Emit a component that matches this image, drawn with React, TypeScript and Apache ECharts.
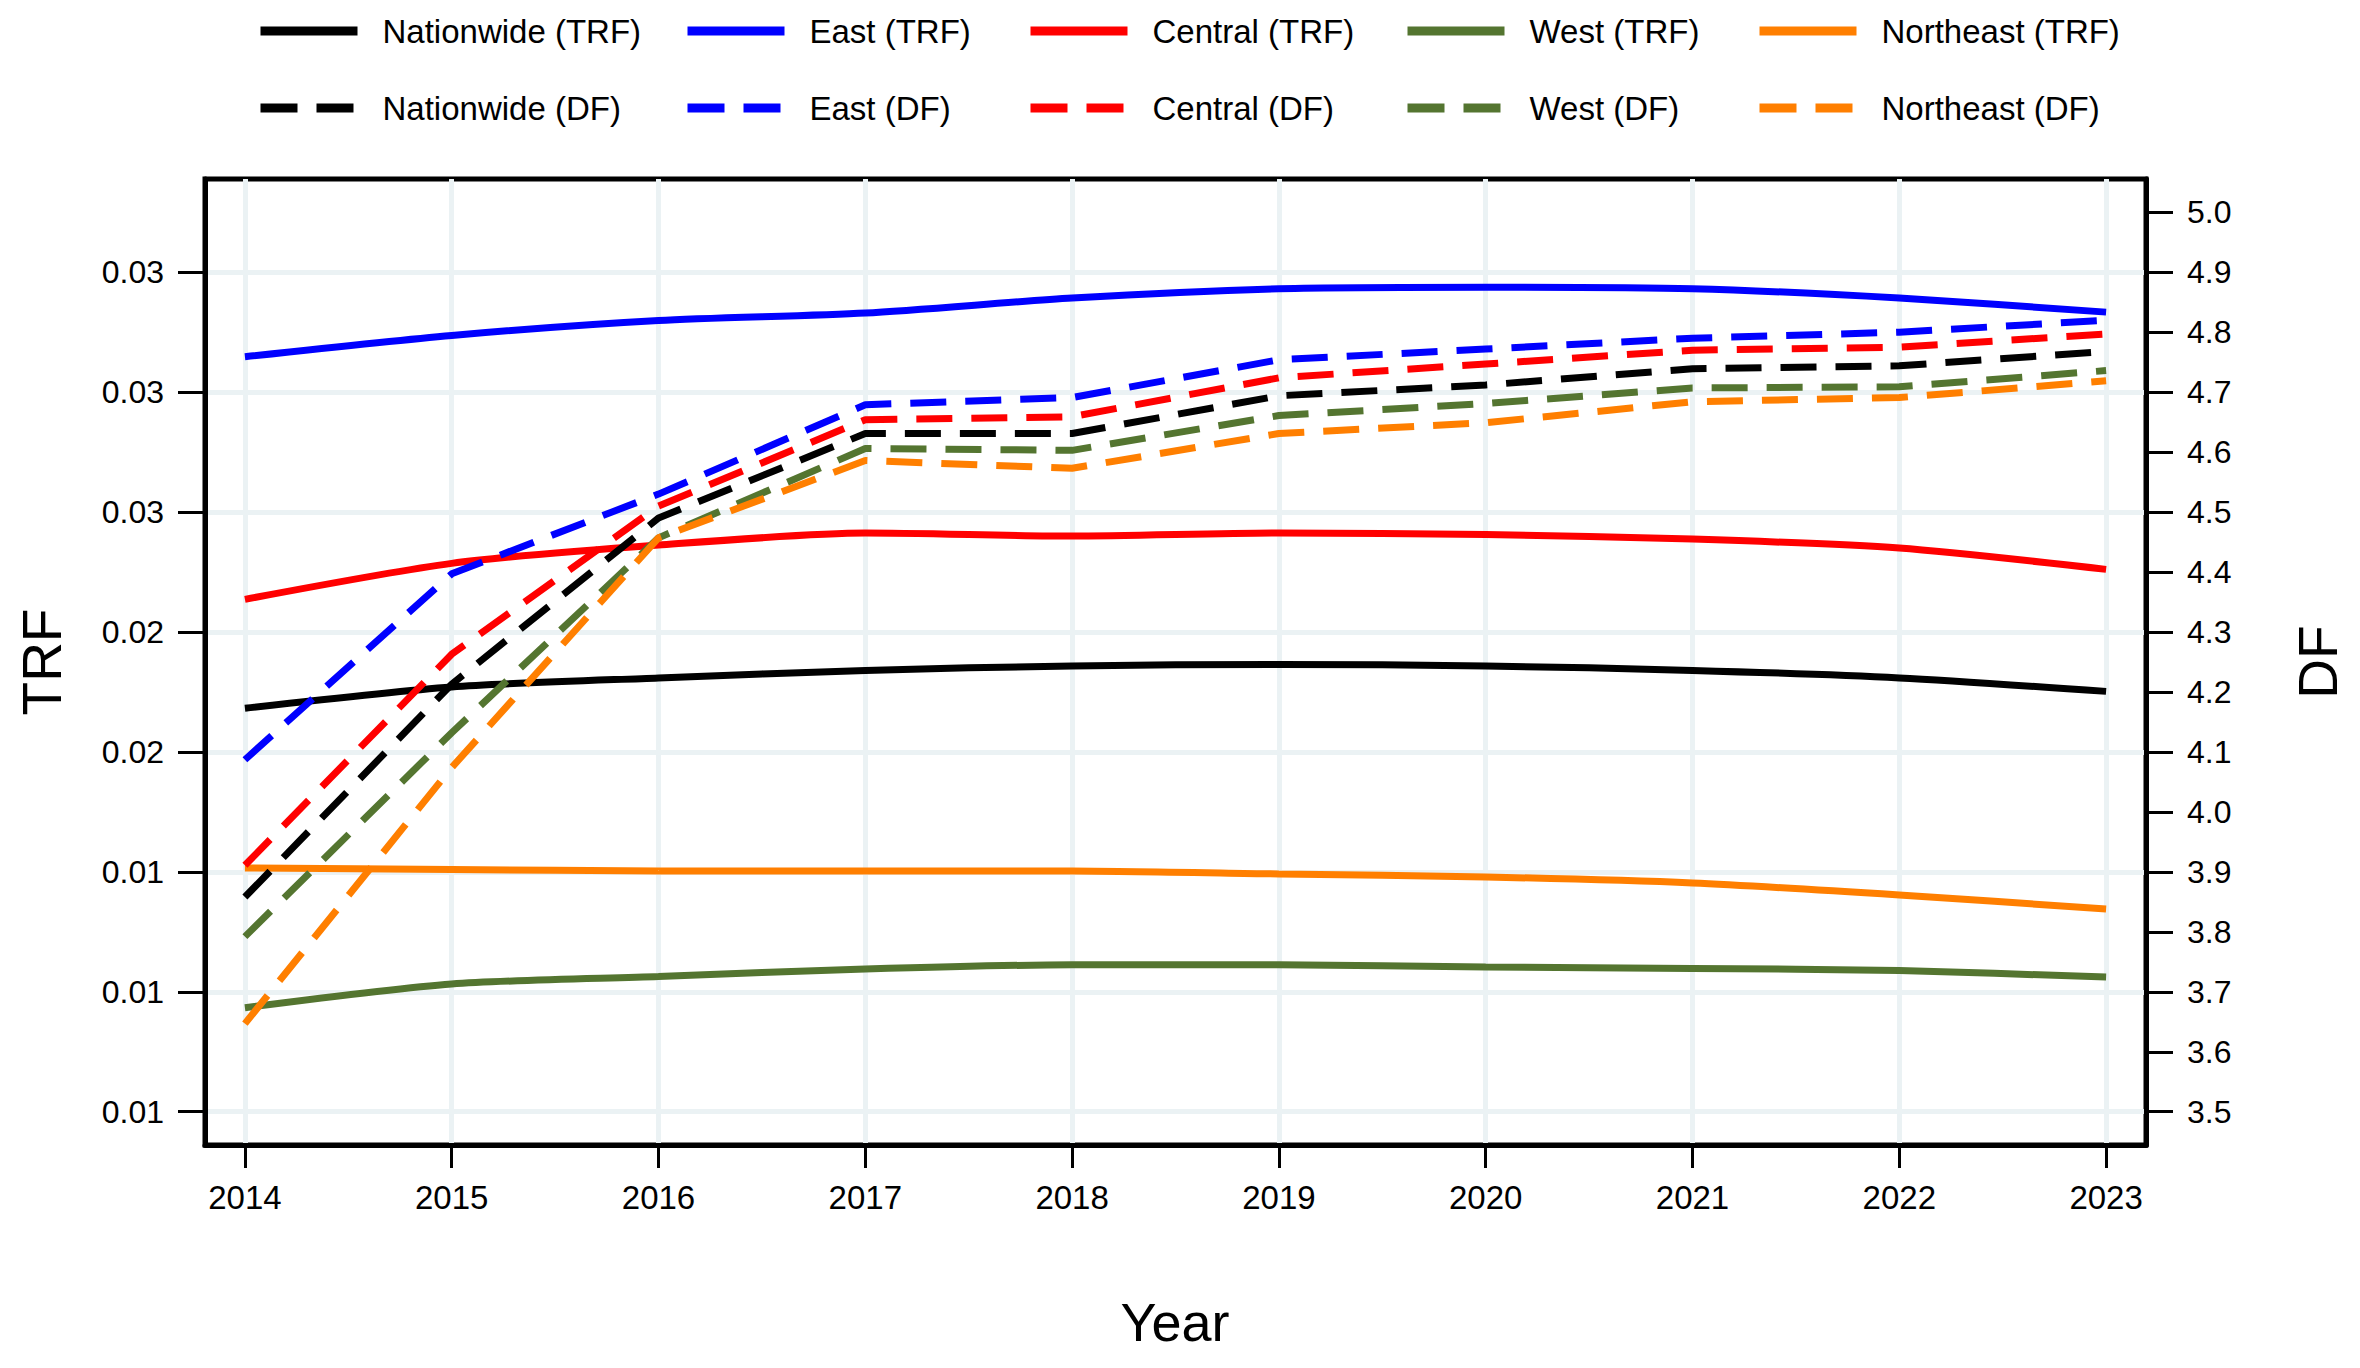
import React, { useEffect, useRef } from "react";
import * as echarts from "echarts";

const years = [2014, 2015, 2016, 2017, 2018, 2019, 2020, 2021, 2022, 2023];
const trfTicks = [0.006, 0.01, 0.014, 0.018, 0.022, 0.026, 0.03, 0.034];
const dfTicks = [3.5, 3.6, 3.7, 3.8, 3.9, 4.0, 4.1, 4.2, 4.3, 4.4, 4.5, 4.6, 4.7, 4.8, 4.9, 5.0];

const nationwideTRF = [0.01946, 0.02017, 0.02047, 0.02072, 0.02087, 0.02092, 0.02087, 0.02072, 0.02047, 0.02002];
const eastTRF = [0.03118, 0.03189, 0.03239, 0.03264, 0.03314, 0.03345, 0.0335, 0.03345, 0.03314, 0.03267];
const centralTRF = [0.02309, 0.02429, 0.0249, 0.0253, 0.0252, 0.0253, 0.02525, 0.0251, 0.0248, 0.02409];
const westTRF = [0.00947, 0.01026, 0.01051, 0.01076, 0.0109, 0.0109, 0.01083, 0.01078, 0.01071, 0.01049];
const northeastTRF = [0.01413, 0.01408, 0.01403, 0.01403, 0.01403, 0.01393, 0.01383, 0.01363, 0.01323, 0.01276];

const nationwideDF = [3.858, 4.213, 4.49, 4.631, 4.631, 4.694, 4.712, 4.739, 4.744, 4.768];
const eastDF = [4.087, 4.397, 4.53, 4.679, 4.691, 4.754, 4.772, 4.79, 4.8, 4.82];
const centralDF = [3.911, 4.263, 4.51, 4.654, 4.659, 4.724, 4.747, 4.77, 4.775, 4.797];
const westDF = [3.792, 4.132, 4.457, 4.606, 4.603, 4.661, 4.681, 4.707, 4.709, 4.736];
const northeastDF = [3.647, 4.074, 4.457, 4.586, 4.573, 4.631, 4.649, 4.684, 4.691, 4.719];

const regions = ["Nationwide", "East", "Central", "West", "Northeast"];
const colors = ["#000000", "#0000ff", "#ff0000", "#547530", "#ff7f00"];
const trfSeries = [nationwideTRF, eastTRF, centralTRF, westTRF, northeastTRF];
const dfSeries = [nationwideDF, eastDF, centralDF, westDF, northeastDF];

const FONT = "'Liberation Sans', Arial, Helvetica, sans-serif";
const DASH = [36, 19];

export default function App() {
  const ref = useRef<HTMLDivElement>(null);

  useEffect(() => {
    document.body.style.margin = "0";
    if (!ref.current) return;
    const chart = echarts.init(ref.current, undefined, { renderer: "svg" });

    const gridL = 205;
    const gridR = 214;
    const gridT = 179;
    const gridB = 223;

    const series: any[] = [];
    regions.forEach((r, i) => {
      series.push({
        name: `${r} (TRF)`,
        type: "line",
        xAxisIndex: 0,
        yAxisIndex: 0,
        data: years.map((y, k) => [y, trfSeries[i][k]]),
        symbol: "none",
        showSymbol: false,
        smooth: 0.25,
        lineStyle: { color: colors[i], width: 7, type: "solid" },
        itemStyle: { color: colors[i] },
        z: 3,
      });
    });
    regions.forEach((r, i) => {
      series.push({
        name: `${r} (DF)`,
        type: "line",
        xAxisIndex: 0,
        yAxisIndex: 1,
        data: years.map((y, k) => [y, dfSeries[i][k]]),
        symbol: "none",
        showSymbol: false,
        smooth: false,
        lineStyle: { color: colors[i], width: 7, type: DASH },
        itemStyle: { color: colors[i] },
        z: 4,
      });
    });

    const legendX = [256, 683, 1026, 1403, 1755];
    const legends: any[] = [];
    regions.forEach((r, i) => {
      [
        { name: `${r} (TRF)`, top: 11, type: "solid" as any },
        { name: `${r} (DF)`, top: 88, type: [37, 19] as any },
      ].forEach((it) => {
        legends.push({
          left: legendX[i],
          top: it.top,
          orient: "horizontal",
          padding: 0,
          itemWidth: 97,
          itemHeight: 9,
          selectedMode: false,
          textStyle: {
            fontFamily: FONT,
            fontSize: 33,
            color: "#000",
            lineHeight: 40,
            padding: [0, 0, 0, 20],
          },
          data: [
            {
              name: it.name,
              lineStyle: { width: 9, type: it.type, color: colors[i] },
              itemStyle: { opacity: 0 },
            },
          ],
        });
      });
    });

    const yMinDF = 3.4445;
    const yMaxDF = 5.0555;
    const toTRF = (d: number) => 0.006 + (d - 3.5) * 0.02;

    const option: any = {
      animation: false,
      backgroundColor: "#ffffff",
      textStyle: { fontFamily: FONT },
      grid: {
        left: gridL,
        right: gridR,
        top: gridT,
        bottom: gridB,
        show: true,
        borderColor: "#000",
        borderWidth: 5,
        backgroundColor: "transparent",
        containLabel: false,
      },
      legend: legends,
      xAxis: {
        type: "value",
        min: 2013.807,
        max: 2023.193,
        axisLine: { show: true, lineStyle: { color: "#000", width: 5 } },
        axisTick: {
          show: true,
          inside: false,
          length: 23,
          lineStyle: { color: "#000", width: 3 },
          customValues: years,
        },
        axisLabel: {
          show: true,
          customValues: years,
          formatter: (v: number) => String(Math.round(v)),
          fontSize: 33,
          color: "#000",
          fontFamily: FONT,
          margin: 36,
        },
        splitLine: { show: true, lineStyle: { color: "#ebf2f4", width: 5 } },
      },
      yAxis: [
        {
          type: "value",
          position: "left",
          min: toTRF(yMinDF),
          max: toTRF(yMaxDF),
          axisLine: { show: true, lineStyle: { color: "#000", width: 5 } },
          axisTick: {
            show: true,
            inside: false,
            length: 27,
            lineStyle: { color: "#000", width: 3 },
            customValues: trfTicks,
          },
          axisLabel: {
            show: true,
            customValues: trfTicks,
            formatter: (v: number) => v.toFixed(2),
            fontSize: 32,
            color: "#000",
            fontFamily: FONT,
            margin: 41,
          },
          splitLine: { show: true, lineStyle: { color: "#ebf2f4", width: 5 } },
        },
        {
          type: "value",
          position: "right",
          min: yMinDF,
          max: yMaxDF,
          axisLine: { show: true, lineStyle: { color: "#000", width: 5 } },
          axisTick: {
            show: true,
            inside: false,
            length: 27,
            lineStyle: { color: "#000", width: 3 },
            customValues: dfTicks,
          },
          axisLabel: {
            show: true,
            customValues: dfTicks,
            formatter: (v: number) => v.toFixed(1),
            fontSize: 32,
            color: "#000",
            fontFamily: FONT,
            margin: 41,
          },
          splitLine: { show: false },
        },
      ],
      graphic: [
        {
          type: "text",
          x: 42,
          y: 662,
          rotation: Math.PI / 2,
          style: {
            text: "TRF",
            fontSize: 55,
            fontFamily: FONT,
            fill: "#000",
            align: "center",
            verticalAlign: "middle",
          },
        },
        {
          type: "text",
          x: 2318,
          y: 662,
          rotation: Math.PI / 2,
          style: {
            text: "DF",
            fontSize: 55,
            fontFamily: FONT,
            fill: "#000",
            align: "center",
            verticalAlign: "middle",
          },
        },
        {
          type: "text",
          x: 1175,
          y: 1322,
          style: {
            text: "Year",
            fontSize: 54,
            fontFamily: FONT,
            fill: "#000",
            align: "center",
            verticalAlign: "middle",
          },
        },
      ],
      series,
    };

    chart.setOption(option);
    return () => {
      chart.dispose();
    };
  }, []);

  return <div ref={ref} style={{ width: 2360, height: 1368 }} />;
}
